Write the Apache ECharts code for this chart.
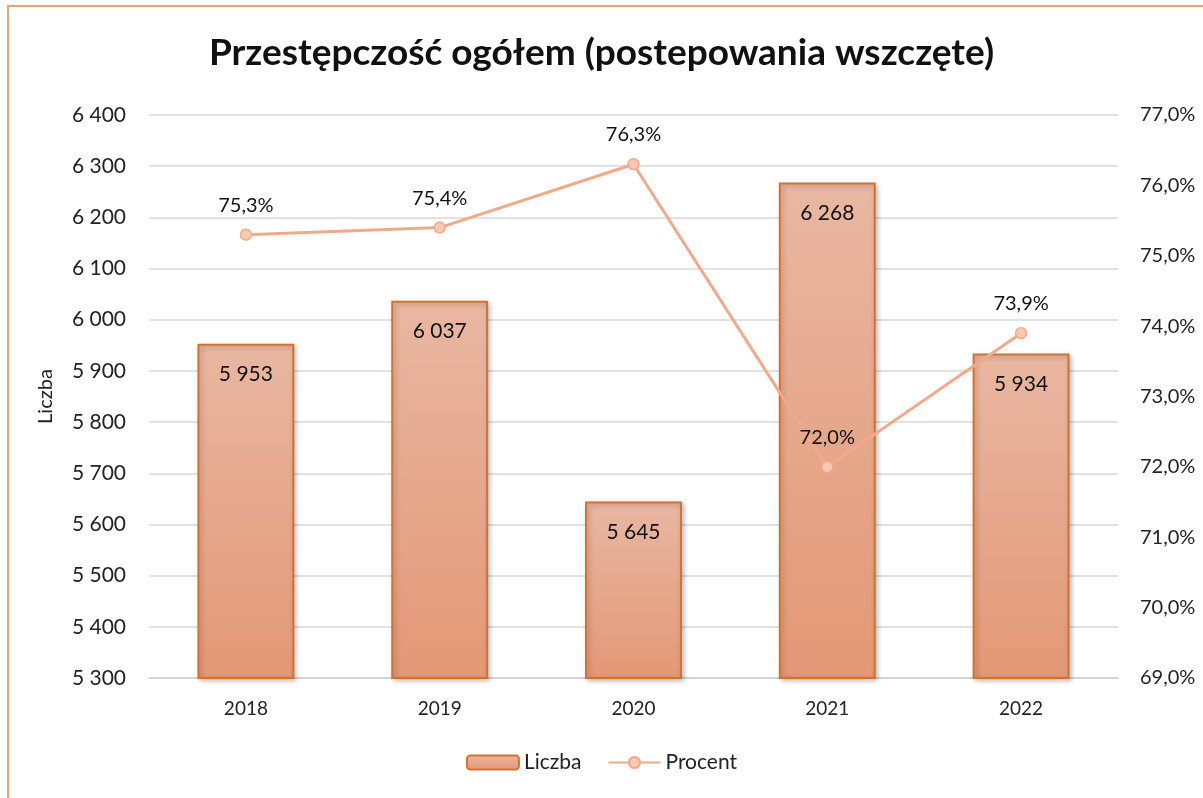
<!DOCTYPE html>
<html>
<head>
<meta charset="utf-8">
<script src="https://cdn.jsdelivr.net/npm/echarts@6/dist/echarts.min.js"></script>
<style>
  html, body { margin: 0; padding: 0; background: #fff; }
  #frame { position: absolute; left: 7px; top: 5px; width: 1220px; height: 820px;
           border-left: 2px solid #f0a070; border-top: 2px solid #f0a070; box-sizing: border-box; }
  #chart { position: absolute; left: 0; top: 0; width: 1203px; height: 798px; }
</style>
</head>
<body>
<div id="frame"></div>
<div id="chart"></div>
<script>
// Yearly counts of initiated proceedings and the share shown on the right axis
const years = ['2018', '2019', '2020', '2021', '2022'];
const liczba = [5953, 6037, 5645, 6268, 5934];
const procent = [75.3, 75.4, 76.3, 72.0, 73.9];

const FONT = 'Lato, "Open Sans", sans-serif';
const fmtThousands = v => String(Math.round(v)).replace(/\B(?=(\d{3})+(?!\d))/g, ' ');
const fmtPct = v => v.toFixed(1).replace('.', ',') + '%';

const chart = echarts.init(document.getElementById('chart'));
chart.setOption({
  animation: false,
  title: {
    text: 'Przestępczość ogółem (postepowania wszczęte)',
    left: 'center', top: 30,
    textStyle: { fontFamily: FONT, fontSize: 37, fontWeight: 'bold', color: '#111' }
  },
  legend: {
    bottom: 20, left: 'center', itemGap: 26, itemWidth: 52, itemHeight: 14,
    textStyle: { fontFamily: FONT, fontSize: 21, color: '#222' },
    data: ['Liczba', 'Procent']
  },
  grid: { left: 149, right: 85, top: 115, bottom: 120, containLabel: false },
  xAxis: {
    type: 'category', data: years,
    axisLine: { lineStyle: { color: '#d0d0d0', width: 1.5 } },
    axisTick: { show: false },
    axisLabel: { fontFamily: FONT, fontSize: 19, color: '#222', margin: 21 }
  },
  yAxis: [{
    type: 'value', min: 5300, max: 6400, interval: 100,
    name: 'Liczba', nameLocation: 'middle', nameGap: 93, nameRotate: 90,
    nameTextStyle: { fontFamily: FONT, fontSize: 20, color: '#222' },
    axisLabel: { fontFamily: FONT, fontSize: 21, color: '#222', margin: 23, formatter: fmtThousands },
    splitLine: { lineStyle: { color: '#d9d9d9', width: 1.5 } },
    axisLine: { show: false }, axisTick: { show: false }
  }, {
    type: 'value', min: 69, max: 77, interval: 1,
    axisLabel: { fontFamily: FONT, fontSize: 20, color: '#222', margin: 22, formatter: fmtPct },
    splitLine: { show: false }, axisLine: { show: false }, axisTick: { show: false }
  }],
  series: [{
    name: 'Liczba', type: 'bar', data: liczba, barWidth: '50%',
    itemStyle: {
      color: new echarts.graphic.LinearGradient(0, 0, 0, 1, [
        { offset: 0, color: '#e9b7a2' }, { offset: 1, color: '#e39876' }
      ]),
      borderColor: '#d5712f', borderWidth: 2,
      shadowColor: 'rgba(0,0,0,0.25)', shadowBlur: 5, shadowOffsetX: 2, shadowOffsetY: 2
    },
    label: {
      show: true, position: 'insideTop', distance: 20,
      fontFamily: FONT, fontSize: 21, color: '#111', formatter: p => fmtThousands(p.value)
    }
  }, {
    name: 'Procent', type: 'line', yAxisIndex: 1, data: procent,
    symbol: 'circle', symbolSize: 11,
    lineStyle: { color: '#f2a98a', width: 3 },
    itemStyle: { color: '#f7c8b4', borderColor: '#f2a98a', borderWidth: 1.5 },
    label: {
      show: true, position: 'top', distance: 13,
      fontFamily: FONT, fontSize: 20, color: '#111', formatter: p => fmtPct(p.value)
    }
  }]
});
</script>
</body>
</html>
